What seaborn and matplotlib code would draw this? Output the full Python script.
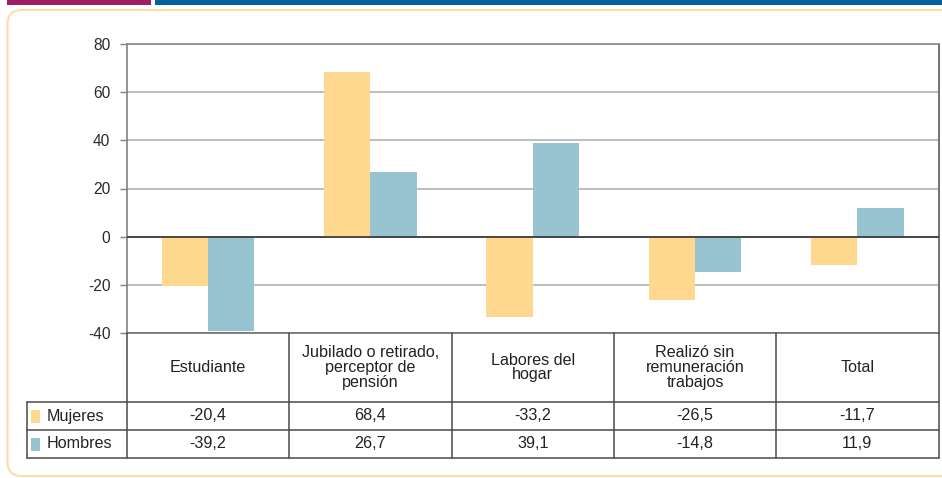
import matplotlib
matplotlib.use("Agg")
import matplotlib.pyplot as plt
import seaborn as sns
import pandas as pd
from matplotlib.transforms import blended_transform_factory, IdentityTransform
from matplotlib.patches import FancyBboxPatch, Rectangle
from matplotlib.lines import Line2D

# Data
categorias = [
    "Estudiante",
    "Jubilado o retirado,\nperceptor de\npensión",
    "Labores del\nhogar",
    "Realizó sin\nremuneración\ntrabajos",
    "Total",
]
series = ["Mujeres", "Hombres"]
mujeres = [-20.4, 68.4, -33.2, -26.5, -11.7]
hombres = [-39.2, 26.7, 39.1, -14.8, 11.9]
yticks = [-40, -20, 0, 20, 40, 60, 80]
colores = {"Mujeres": "#FED88E", "Hombres": "#98C4D2"}

df = pd.DataFrame({
    "categoria": categorias * 2,
    "serie": ["Mujeres"] * len(categorias) + ["Hombres"] * len(categorias),
    "valor": mujeres + hombres,
})

sns.set_theme(style="white")
plt.rcParams["font.family"] = ["Liberation Sans", "DejaVu Sans"]

W, H = 942, 478
fig = plt.figure(figsize=(W / 100, H / 100), dpi=100)
fig.patch.set_facecolor("white")


def fx(px):
    return px / W


def fy(py):
    return 1 - py / H


# Plot area
ax_l, ax_r, ax_t, ax_b = 127, 938.5, 44, 333
ax = fig.add_axes([fx(ax_l), fy(ax_b), fx(ax_r - ax_l), (ax_b - ax_t) / H])

sns.barplot(data=df, x="categoria", y="valor", hue="serie", order=categorias,
            hue_order=series, palette=colores, width=0.57, saturation=1,
            linewidth=0, errorbar=None, legend=False, ax=ax, zorder=2)

ax.set_ylim(-40, 80)
ax.set_xlim(-0.5, len(categorias) - 0.5)
ax.set_yticks(yticks)
ax.set_yticklabels([str(t) for t in yticks], fontsize=11.2, color="#2A2A2A")
ax.set_xticks([])
ax.set_xlabel("")
ax.set_ylabel("")
ax.yaxis.grid(True, color="#B8B8B8", linewidth=1.3)
ax.set_axisbelow(True)
ax.axhline(0, color="#333333", linewidth=1.2, zorder=3)
ax.tick_params(axis="y", length=5, width=1, color="#808080", pad=7, left=True)
for side, col in [("top", "#8A8A8A"), ("bottom", "#6E6E6E"),
                  ("left", "#808080"), ("right", "#5A5A5A")]:
    ax.spines[side].set_visible(True)
    ax.spines[side].set_color(col)
    ax.spines[side].set_linewidth(1.2)

# Data table under the plot
tr = blended_transform_factory(ax.transData, fig.transFigure)
line_col = "#4A4A4A"
tbl_left = 27
rows_y = [402, 430, 458]
for yy in rows_y:
    fig.add_artist(Line2D([fx(tbl_left), fx(ax_r)], [fy(yy), fy(yy)],
                          color=line_col, linewidth=1.1))
for i in range(len(categorias) + 1):
    fig.add_artist(Line2D([i - 0.5, i - 0.5], [fy(ax_b), fy(458)],
                          transform=tr, color=line_col, linewidth=1.1))
fig.add_artist(Line2D([fx(tbl_left), fx(tbl_left)], [fy(402), fy(458)],
                      color=line_col, linewidth=1.1))

txt_col = "#222222"
fs = 11.6
for i, cat in enumerate(categorias):
    fig.text(i, fy(367.5), cat, transform=tr, ha="center", va="center",
             fontsize=fs, color=txt_col, linespacing=0.98)
    fig.text(i, fy(416), f"{mujeres[i]:.1f}".replace(".", ","), transform=tr,
             ha="center", va="center", fontsize=fs, color=txt_col)
    fig.text(i, fy(444), f"{hombres[i]:.1f}".replace(".", ","), transform=tr,
             ha="center", va="center", fontsize=fs, color=txt_col)

for name, yc in zip(series, [416, 444]):
    fig.add_artist(Rectangle((fx(31), fy(yc + 6.5)), fx(9), 13 / H,
                             transform=fig.transFigure, facecolor=colores[name],
                             edgecolor="none"))
    fig.text(fx(47), fy(yc), name, ha="left", va="center", fontsize=fs,
             color=txt_col)

# Page decoration: header bars and rounded panel frame
fig.add_artist(Rectangle((fx(7), fy(5)), fx(144), 5 / H, transform=fig.transFigure,
                         facecolor="#A11D63", edgecolor="none"))
fig.add_artist(Rectangle((fx(155), fy(5)), fx(W - 155), 5 / H,
                         transform=fig.transFigure, facecolor="#005F9E",
                         edgecolor="none"))
fig.add_artist(FancyBboxPatch((7.5, H - 476), 990, 466,
                              boxstyle="round,pad=0,rounding_size=14",
                              transform=IdentityTransform(), fill=False,
                              edgecolor="#FDDCA6", linewidth=1.5))

fig.savefig("out.png", dpi=100)
